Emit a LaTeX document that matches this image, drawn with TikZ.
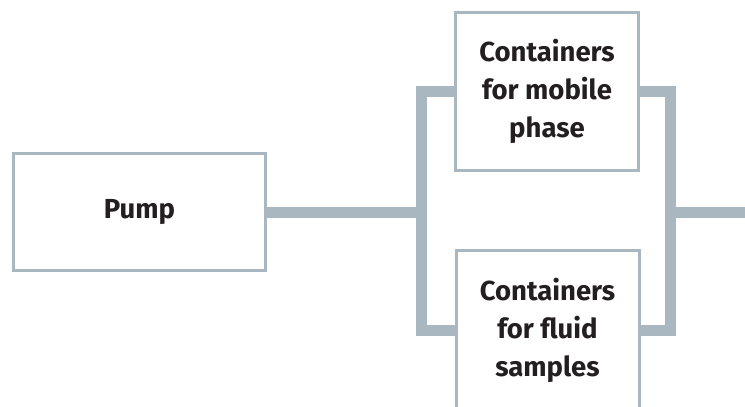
\documentclass[tikz,border=0pt]{standalone}
\usepackage{fontspec}
\setmainfont{Fira Sans}
\usepackage{tikz}
\usetikzlibrary{positioning, backgrounds}
\usepackage{xcolor}
\definecolor{pipegray}{HTML}{A8B7C0}
\definecolor{textdark}{HTML}{231F20}

\begin{document}
\begin{tikzpicture}[x=1pt, y=-1pt,
  box/.style={rectangle, draw=pipegray, line width=3pt, fill=white, align=center, text=textdark, font=\fontsize{27.5}{38}\selectfont\bfseries},
  pipe/.style={draw=pipegray, line width=11pt}
]
  \useasboundingbox (0,0) rectangle (745,407);

  \node[box, minimum width=252pt, minimum height=117pt] (pump) at (139.5,212) {Pump};
  \node[box, minimum width=183pt, minimum height=158pt] (mobile) at (547,91.5) {Containers\\for mobile\\phase};
  \node[box, minimum width=183pt, minimum height=160pt] (samples) at (547.5,330) {Containers\\for fluid\\samples};

  \coordinate (jl) at (421,212);
  \coordinate (jr) at (670.5,212);
  \coordinate (out) at (745,212);

  \begin{scope}[on background layer]
    \draw[pipe] (mobile.west) -| (jl) |- (samples.west);
    \draw[pipe] (mobile.east) -| (jr) |- (samples.east);
    \draw[pipe] (pump.east) -- (jl);
    \draw[pipe] (jr) -- (out);
  \end{scope}
\end{tikzpicture}
\end{document}
